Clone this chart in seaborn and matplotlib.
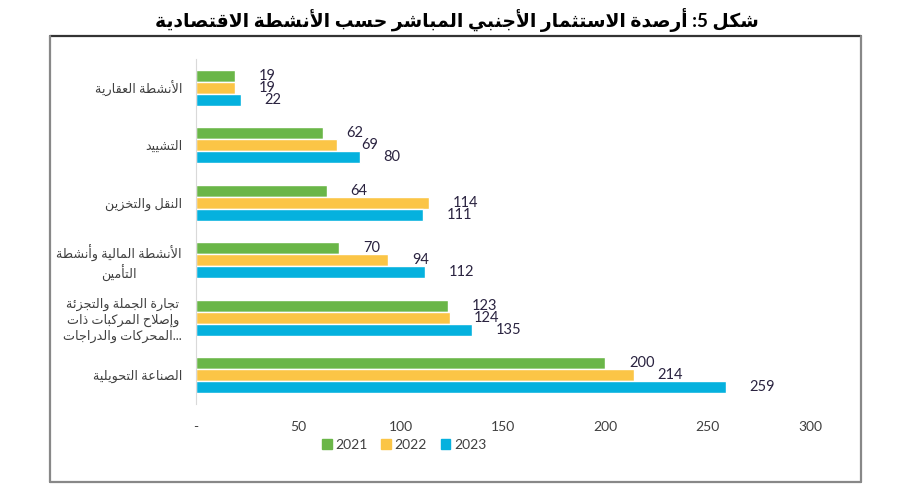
import pandas as pd
import matplotlib
matplotlib.use("Agg")
import matplotlib.pyplot as plt
from matplotlib.lines import Line2D
from matplotlib.patches import Patch
import seaborn as sns

# data
categories = [
    "الأنشطة العقارية",
    "التشييد",
    "النقل والتخزين",
    "الأنشطة المالية وأنشطة\nالتأمين",
    "تجارة الجملة والتجزئة\nوإصلاح المركبات ذات\nالمحركات والدراجات",
    "الصناعة التحويلية",
]
years = ["2021", "2022", "2023"]
v2021 = [19, 62, 64, 70, 123, 200]
v2022 = [19, 69, 114, 94, 124, 214]
v2023 = [22, 80, 111, 112, 135, 259]
xticks = [0, 50, 100, 150, 200, 250, 300]
xtick_labels = ["-", "50", "100", "150", "200", "250", "300"]
title = "شكل 5: أرصدة الاستثمار الأجنبي المباشر حسب الأنشطة الاقتصادية"
colors = ["#6ab648", "#fbc546", "#05b1de"]

# minimal arabic shaping (presentation forms) + reversal for display
FORMS = {'ء': (0xFE80, 1), 'آ': (0xFE81, 2), 'أ': (0xFE83, 2), 'ؤ': (0xFE85, 2),
         'إ': (0xFE87, 2), 'ئ': (0xFE89, 4), 'ا': (0xFE8D, 2), 'ب': (0xFE8F, 4),
         'ة': (0xFE93, 2), 'ت': (0xFE95, 4), 'ث': (0xFE99, 4), 'ج': (0xFE9D, 4),
         'ح': (0xFEA1, 4), 'خ': (0xFEA5, 4), 'د': (0xFEA9, 2), 'ذ': (0xFEAB, 2),
         'ر': (0xFEAD, 2), 'ز': (0xFEAF, 2), 'س': (0xFEB1, 4), 'ش': (0xFEB5, 4),
         'ص': (0xFEB9, 4), 'ض': (0xFEBD, 4), 'ط': (0xFEC1, 4), 'ظ': (0xFEC5, 4),
         'ع': (0xFEC9, 4), 'غ': (0xFECD, 4), 'ف': (0xFED1, 4), 'ق': (0xFED5, 4),
         'ك': (0xFED9, 4), 'ل': (0xFEDD, 4), 'م': (0xFEE1, 4), 'ن': (0xFEE5, 4),
         'ه': (0xFEE9, 4), 'و': (0xFEED, 2), 'ى': (0xFEEF, 2), 'ي': (0xFEF1, 4)}
LAM_ALEF = {'آ': 0xFEF5, 'أ': 0xFEF7, 'إ': 0xFEF9, 'ا': 0xFEFB}


def shape_line(text):
    units = []
    i = 0
    while i < len(text):
        c = text[i]
        if c == 'ل' and i + 1 < len(text) and text[i + 1] in LAM_ALEF:
            units.append((LAM_ALEF[text[i + 1]], 2))
            i += 2
        elif c in FORMS:
            units.append(FORMS[c])
            i += 1
        else:
            units.append((c, 0))
            i += 1
    out = []
    for k, (b, n) in enumerate(units):
        if n == 0:
            out.append(b)
            continue
        jp = k > 0 and units[k - 1][1] == 4
        jn = n == 4 and k + 1 < len(units) and units[k + 1][1] > 0
        if n == 1:
            code = b
        elif jp and jn:
            code = b + 3
        elif jp:
            code = b + 1
        elif jn:
            code = b + 2
        else:
            code = b
        out.append(chr(code))
    return "".join(out)[::-1]


def ar(text):
    return "\n".join(shape_line(t) for t in text.split("\n"))


labels = [ar(c) for c in categories]
labels[4] = labels[4] + "..."

df = pd.DataFrame({
    "cat": labels * 3,
    "year": [y for y in years for _ in labels],
    "value": v2021 + v2022 + v2023,
})

sns.set_style("white")
plt.rcParams["font.family"] = ["Lato", "DejaVu Sans"]

fig = plt.figure(figsize=(9.02, 4.91), dpi=100)
ax = fig.add_axes([196 / 902, 1 - 404 / 491, 614 / 902, 345 / 491])
sns.barplot(data=df, y="cat", x="value", hue="year", palette=colors,
            orient="h", width=0.63, saturation=1, legend=False, ax=ax)

for cont in ax.containers:
    ax.bar_label(cont, padding=17, fontsize=10.5, color="#2a2340")

ax.set_xlim(0, 300)
ax.set_xticks(xticks, xtick_labels)
ax.set_xlabel("")
ax.set_ylabel("")
ax.tick_params(axis="x", length=0, pad=12, labelsize=10, labelcolor="#404040")
ax.tick_params(axis="y", length=0, pad=10, labelsize=9.2, labelcolor="#404040")
for t in ax.get_yticklabels():
    t.set_multialignment("center")
    t.set_linespacing(1.25)
for s in ["top", "right", "bottom"]:
    ax.spines[s].set_visible(False)
ax.spines["left"].set_color("#d9d9d9")

handles = [Patch(color=c) for c in colors]
fig.legend(handles, years, loc="center", bbox_to_anchor=(404 / 902, 1 - 445 / 491),
           ncol=3, frameon=False, fontsize=10, handlelength=0.7, handleheight=0.7,
           handletextpad=0.25, columnspacing=1.0, labelcolor="#404040")

fig.text(0.507, 1 - 20 / 491, ar(title), ha="center", va="center",
         fontsize=13.5, fontweight="bold", color="black")

# frame around the chart
x0, x1 = 50 / 902, 861 / 902
y0, y1 = 1 - 482 / 491, 1 - 36 / 491
fig.add_artist(Line2D([x0, x1], [y1, y1], color="#333333", lw=1.6))
fig.add_artist(Line2D([x0, x0], [y0, y1], color="#888888", lw=1.6))
fig.add_artist(Line2D([x1, x1], [y0, y1], color="#888888", lw=1.6))
fig.add_artist(Line2D([x0, x1], [y0, y0], color="#888888", lw=1.6))

fig.savefig("out.png", dpi=100, facecolor="white")
